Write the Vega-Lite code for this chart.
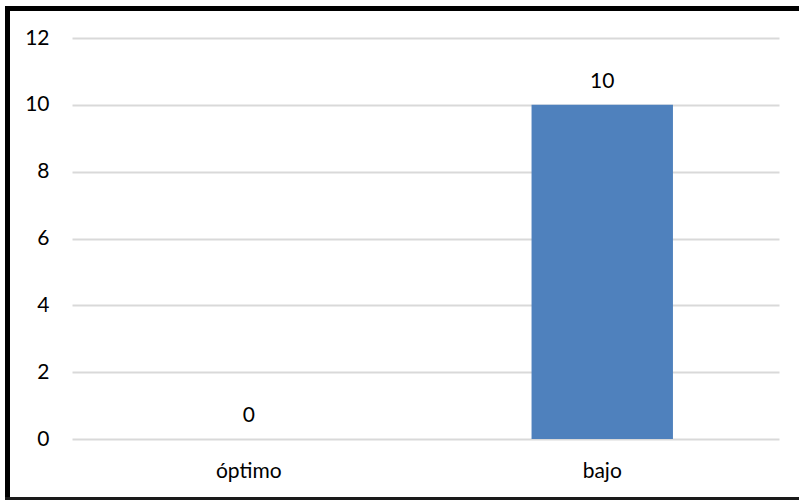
{
  "$schema": "https://vega.github.io/schema/vega-lite/v6.json",
  "autosize": {"type": "none"},
  "width": 707,
  "height": 401,
  "padding": {"left": 72, "top": 38, "right": 20, "bottom": 61},
  "background": "white",
  "config": {
    "view": {"stroke": null},
    "font": "Lato",
    "text": {"font": "Lato"}
  },
  "data": {
    "values": [
      {"nivel": "óptimo", "cantidad": 0},
      {"nivel": "bajo", "cantidad": 10}
    ]
  },
  "layer": [
    {
      "mark": {"type": "bar", "color": "#4f81bd", "width": {"band": 0.4}},
      "encoding": {
        "x": {
          "field": "nivel",
          "type": "nominal",
          "sort": ["óptimo", "bajo"],
          "scale": {"paddingInner": 0, "paddingOuter": 0},
          "axis": {
            "title": null,
            "domain": false,
            "ticks": false,
            "labelAngle": 0,
            "labelFont": "Lato",
            "labelFontSize": 21,
            "labelColor": "#000",
            "labelPadding": 21
          }
        },
        "y": {
          "field": "cantidad",
          "type": "quantitative",
          "scale": {"domain": [0, 12], "nice": false},
          "axis": {
            "title": null,
            "values": [0, 2, 4, 6, 8, 10, 12],
            "domain": false,
            "ticks": false,
            "grid": true,
            "gridColor": "#d9d9d9",
            "gridWidth": 2,
            "labelFont": "Lato",
            "labelFontSize": 21,
            "labelColor": "#000",
            "labelPadding": 23
          }
        }
      }
    },
    {
      "mark": {
        "type": "text",
        "fontSize": 21,
        "color": "#000",
        "baseline": "alphabetic",
        "dy": -17
      },
      "encoding": {
        "x": {"field": "nivel", "type": "nominal", "sort": ["óptimo", "bajo"]},
        "y": {"field": "cantidad", "type": "quantitative"},
        "text": {"field": "cantidad", "type": "quantitative"}
      }
    },
    {
      "data": {"values": [{}]},
      "mark": {"type": "rect", "color": "#000", "strokeWidth": 0},
      "encoding": {
        "x": {"value": -67},
        "x2": {"value": -62},
        "y": {"value": -32},
        "y2": {"value": 462}
      }
    },
    {
      "data": {"values": [{}]},
      "mark": {"type": "rect", "color": "#000", "strokeWidth": 0},
      "encoding": {
        "x": {"value": -67},
        "x2": {"value": 727},
        "y": {"value": -32},
        "y2": {"value": -27}
      }
    },
    {
      "data": {"values": [{}]},
      "mark": {"type": "rect", "color": "#1a1a1a", "strokeWidth": 0},
      "encoding": {
        "x": {"value": -67},
        "x2": {"value": 727},
        "y": {"value": 459},
        "y2": {"value": 462}
      }
    }
  ]
}
